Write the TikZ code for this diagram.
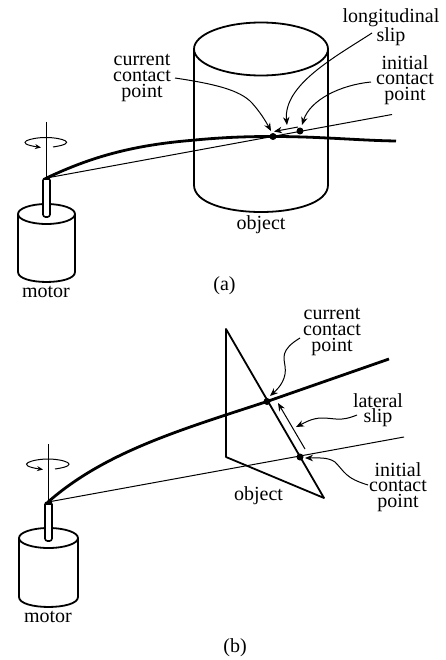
\documentclass[tikz,border=0pt]{standalone}
\usepackage{fontspec}
\setmainfont{Liberation Serif}
\usetikzlibrary{arrows.meta}
\tikzset{
  x=1pt,y=-1pt,
  outline/.style={line width=1.8pt,line join=round},
  thinline/.style={line width=1pt},
  beam/.style={line width=2.8pt},
  callout/.style={line width=1pt,-{Stealth[length=8pt,width=6.5pt]}},
  lab/.style={inner sep=0pt,align=center,font=\fontsize{20}{15.6}\selectfont},
  contact/.style={circle,fill=black,inner sep=0pt,minimum size=7pt},
  shaft/.style={line width=1.6pt,fill=white,rounded corners=2.5pt},
  spin/.style={line width=1pt,-{Stealth[length=6pt,width=5pt]}},
}
\newcommand{\motordraw}[8]{% xl xr ytop ry ybot ; shaft xl xr top
  \draw[outline] (#1,#3) -- (#1,#5) .. controls (#1,#5+1.33*#4) and (#2,#5+1.33*#4) .. (#2,#5) -- (#2,#3);
  \draw[outline] ({(#1+#2)/2},#3) ellipse [x radius={(#2-#1)/2},y radius=#4];
  \draw[shaft] (#6,#8) -- (#6,#8+39) -- (#7,#8+39) -- (#7,#8) -- cycle;
}
\begin{document}
\begin{tikzpicture}
\useasboundingbox (0,0) rectangle (445,660);
%%% (a)
% object
\draw[outline] (261,49) ellipse [x radius=67,y radius=26.5];
\draw[outline] (194,49) -- (194,185) .. controls (194,221) and (328,221) .. (328,185) -- (328,49);
% motor
\motordraw{18}{75}{214}{10}{272}{43}{50}{178}
% beam and straight reference
\coordinate (aTip) at (46.5,178);
\coordinate (aBeamEnd) at (396,141);
\coordinate (aRefEnd) at (392,114.5);
\coordinate (aAxisTop) at (46.5,122);
\node[contact] (aCur) at (273,136.5) {};
\node[contact] (aIni) at (300,131) {};
\draw[thinline] (aTip) -- (aRefEnd);
\draw[beam] (aTip) .. controls (85,160) and (125,146) .. (190,140.5) .. controls (225,137) and (250,136.5) .. (273,136.5) .. controls (320,136.5) and (360,140.5) .. (aBeamEnd);
\draw[thinline] (aAxisTop) -- (aTip);
\fill (aTip) +(-3,0) rectangle +(3.5,2.5);
\draw[spin] (53,147) .. controls (80,143) and (61,137.5) .. (46,137.5) .. controls (31,137.5) and (12,143) .. (41,147.5);
% labels
\node[lab] (aCurL) at (142,78) {current\\contact\\point};
\node[lab] (aLongL) at (391,27) {longitudinal\\slip};
\node[lab] (aIniL) at (405,80) {initial\\contact\\point};
\node[lab] (aObj) at (261,225) {object};
\node[lab] (aMot) at (46,292) {motor};
\node[lab] (aCap) at (224.5,286) {(a)};
% callouts
\coordinate (aS1) at (298,127);
\coordinate (aS2) at (274,131.5);
\draw[callout] (aS1) -- (aS2);
\coordinate (aC0) at (175,78);
\coordinate (aC1) at (271,131);
\draw[callout] (aC0) .. controls (215,84) and (240,90) .. (252,103) .. controls (260,112) and (265,120) .. (aC1);
\coordinate (aL0) at (372,33);
\coordinate (aL1) at (287,125);
\draw[callout] (aL0) .. controls (335,57) and (283,85) .. (aL1);
\coordinate (aI0) at (371,82);
\coordinate (aI1) at (302,125);
\draw[callout] (aI0) .. controls (340,85) and (310,100) .. (aI1);
%%% (b)
% object
\draw[outline] (226,329) -- (226,457) -- (324,498) -- cycle;
% motor
\motordraw{19}{78}{538}{10}{597}{45}{52}{502}
\coordinate (bTip) at (48,502);
\coordinate (bBeamEnd) at (389,359);
\coordinate (bRefEnd) at (404,437);
\coordinate (bAxisTop) at (48,444);
\node[contact] (bCur) at (267,401.5) {};
\node[contact] (bIni) at (300,457) {};
\draw[thinline] (bTip) -- (bRefEnd);
\draw[beam] (bTip) .. controls (105,452) and (180,430) .. (267,401.5) -- (bBeamEnd);
\draw[thinline] (bAxisTop) -- (bTip);
\fill (bTip) +(-3,0) rectangle +(3.5,2.5);
\draw[spin] (55,469) .. controls (83,465) and (63,459) .. (48,459) .. controls (33,459) and (13,465) .. (43,469.5);
% labels
\node[lab] (bCurL) at (332,332) {current\\contact\\point};
\node[lab] (bLatL) at (378,410) {lateral\\slip};
\node[lab] (bIniL) at (398,487) {initial\\contact\\point};
\node[lab] (bObj) at (258.5,496) {object};
\node[lab] (bMot) at (48,617) {motor};
\node[lab] (bCap) at (235,648) {(b)};
% callouts
\coordinate (bS1) at (305,449);
\coordinate (bS2) at (278,403);
\draw[callout] (bS1) -- (bS2);
\coordinate (bC0) at (300,338);
\coordinate (bC1) at (270,396);
\draw[callout] (bC0) .. controls (280,350) and (284,358) .. (285,366) .. controls (287,378) and (280,387) .. (bC1);
\coordinate (bL0) at (357,415);
\coordinate (bL1) at (296,427);
\draw[callout] (bL0) .. controls (340,422) and (335,418) .. (322,418) .. controls (312,418) and (304,423) .. (bL1);
\coordinate (bI0) at (368,485);
\coordinate (bI1) at (305,458);
\draw[callout] (bI0) .. controls (345,478) and (345,472) .. (335,462) .. controls (328,457) and (318,458) .. (bI1);
\end{tikzpicture}
\end{document}
